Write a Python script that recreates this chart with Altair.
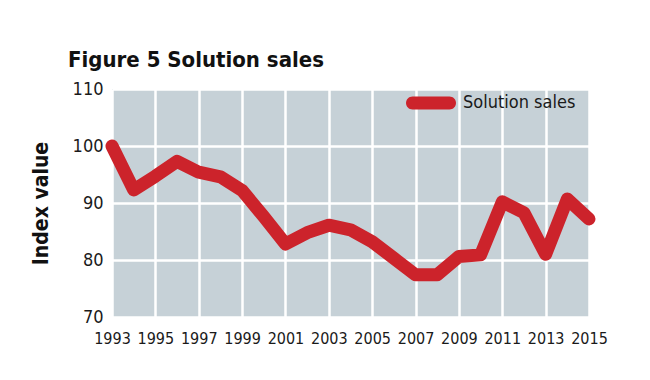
import altair as alt
import pandas as pd

years = list(range(1993, 2016))
values = [100.0, 92.3, 94.7, 97.3, 95.4, 94.6, 92.2, 87.6, 82.8, 84.8, 86.1, 85.3,
          83.2, 80.3, 77.4, 77.4, 80.6, 80.9, 90.2, 88.3, 81.0, 90.7, 87.2]
series = ["Solution sales"] * len(years)
x_ticks = list(range(1993, 2016, 2))
y_ticks = [70, 80, 90, 100, 110]

df = pd.DataFrame({"year": years, "value": values, "series": series})

FONT = "DejaVu Sans Condensed"
RED = "#cc232b"
PILL = "M-0.74,-0.26 L0.74,-0.26 A0.26,0.26 0 0 1 0.74,0.26 L-0.74,0.26 A0.26,0.26 0 0 1 -0.74,-0.26 Z"

chart = alt.Chart(df).mark_line(
    strokeWidth=13, strokeCap="round", strokeJoin="round"
).encode(
    x=alt.X("year:Q", scale=alt.Scale(domain=[1993, 2015], nice=False, zero=False),
            axis=alt.Axis(values=x_ticks, format="d", title=None, labelFontSize=16,
                          labelFont=FONT, labelColor="#1a1a1a", labelPadding=13,
                          domain=False, ticks=False, gridColor="white", gridWidth=2.5,
                          gridOpacity=1, labelFlush=False)),
    y=alt.Y("value:Q", scale=alt.Scale(domain=[70, 110], nice=False, zero=False),
            axis=alt.Axis(values=y_ticks, title="Index value", titleFontSize=21,
                          titleFont=FONT, titleFontWeight="bold", titleColor="#111",
                          titlePadding=21, labelFontSize=18, labelFont=FONT,
                          labelColor="#1a1a1a", labelPadding=9, domain=False,
                          ticks=False, gridColor="white", gridWidth=2.5, gridOpacity=1)),
    color=alt.Color("series:N", scale=alt.Scale(range=[RED]),
                    legend=alt.Legend(title=None, orient="none", legendX=294,
                                      legendY=-11, symbolType=PILL,
                                      symbolStrokeWidth=0, symbolFillColor=RED,
                                      symbolSize=2500, symbolOpacity=1,
                                      labelFontSize=18, labelFont=FONT,
                                      labelColor="#1a1a1a", labelOffset=7)),
).properties(
    width=477,
    height=228,
    title=alt.TitleParams("Figure 5 Solution sales", anchor="start", dx=-44,
                          fontSize=22, font=FONT, fontWeight="bold", color="#111",
                          offset=6, frame="group"),
    padding={"left": 104, "top": 81, "right": 30, "bottom": 30},
    autosize=alt.AutoSizeParams(type="none"),
    background="white",
).configure_view(
    fill="#c6d1d7", stroke=None
)

chart.save("out.html", embed_options={"renderer": "svg", "actions": False})
